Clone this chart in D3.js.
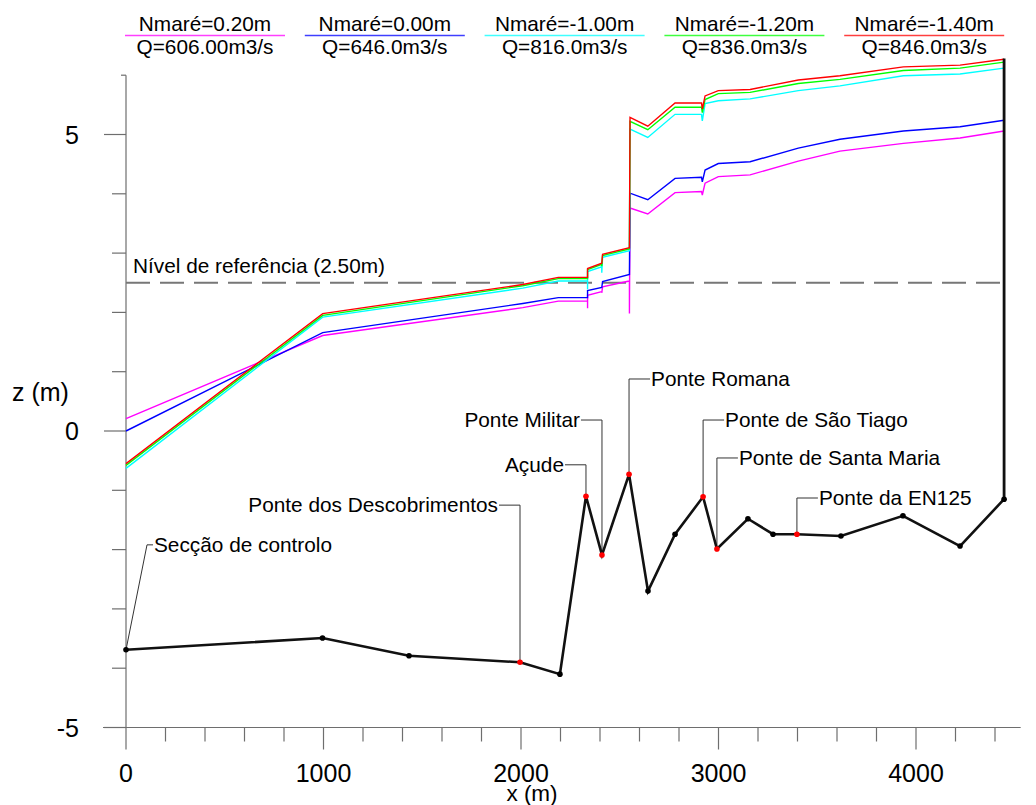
<!DOCTYPE html>
<html><head><meta charset="utf-8">
<script src="https://cdn.jsdelivr.net/npm/d3@7"></script>
<style>
body{margin:0;background:#fff}
svg{display:block}
text{font-family:"Liberation Sans",Arial,Helvetica,sans-serif;fill:#000}
</style>
</head><body>
<svg id="c" width="1036" height="805"></svg>
<script>
// ---------------- DATA ----------------
// water surface stations (m); repeated stations describe vertical jumps/spikes
const stations = [0, 996, 2009, 2189, 2337, 2337, 2337, 2409, 2409, 2413, 2549, 2549, 2552, 2642, 2780, 2914, 2918, 2932, 2999, 3160, 3404, 3615, 3936, 4223, 4446];

const zMare020 = [0.21, 1.61, 2.08, 2.19, 2.19, 2.07, 2.29, 2.35, 2.33, 2.43, 2.53, 1.98, 3.76, 3.66, 4.02, 4.04, 3.98, 4.18, 4.29, 4.32, 4.55, 4.72, 4.85, 4.94, 5.06];
const zMare000 = [0.00, 1.66, 2.15, 2.25, 2.25, 2.25, 2.37, 2.42, 2.42, 2.52, 2.64, 2.64, 4.01, 3.90, 4.26, 4.28, 4.20, 4.40, 4.51, 4.54, 4.77, 4.92, 5.06, 5.13, 5.24];
const zMareM100 = [-0.63, 1.92, 2.41, 2.53, 2.53, 2.39, 2.69, 2.77, 2.67, 2.93, 3.04, 3.04, 5.09, 4.95, 5.34, 5.34, 5.23, 5.52, 5.57, 5.60, 5.74, 5.82, 5.99, 6.02, 6.12];
const zMareM120 = [-0.58, 1.95, 2.45, 2.57, 2.57, 2.57, 2.72, 2.81, 2.78, 2.96, 3.07, 3.07, 5.22, 5.08, 5.46, 5.46, 5.37, 5.59, 5.69, 5.71, 5.86, 5.93, 6.08, 6.12, 6.22];
const zMareM140 = [-0.55, 1.98, 2.47, 2.59, 2.59, 2.59, 2.74, 2.83, 2.83, 2.98, 3.09, 3.09, 5.29, 5.14, 5.53, 5.53, 5.43, 5.65, 5.74, 5.76, 5.92, 5.99, 6.14, 6.17, 6.27];

const seriesNames = ["Nmaré=0.20m", "Nmaré=0.00m", "Nmaré=-1.00m", "Nmaré=-1.20m", "Nmaré=-1.40m"];
const seriesQ = ["Q=606.00m3/s", "Q=646.0m3/s", "Q=816.0m3/s", "Q=836.0m3/s", "Q=846.0m3/s"];
const seriesColors = ["#ff00ff", "#0000ff", "#00ffff", "#00ff00", "#ff0000"];
const seriesZ = [zMare020, zMare000, zMareM100, zMareM120, zMareM140];

// river bed profile
const bedX = [0, 995, 1433, 1995, 2197, 2329, 2410, 2547, 2643, 2780, 2922, 2992, 3149, 3276, 3397, 3620, 3934, 4223, 4446];
const bedZ = [-3.69, -3.49, -3.79, -3.90, -4.10, -1.10, -2.09, -0.73, -2.70, -1.74, -1.11, -1.99, -1.48, -1.74, -1.74, -1.77, -1.43, -1.94, -1.15];
const bedSpecial = [0, 0, 0, 1, 0, 1, 1, 1, 0, 0, 1, 1, 0, 0, 1, 0, 0, 0, 0];
const rightWallTop = 6.28;

// annotations
const annotNames = ["Secção de controlo", "Ponte dos Descobrimentos", "Açude", "Ponte Militar", "Ponte Romana", "Ponte de São Tiago", "Ponte de Santa Maria", "Ponte da EN125"];
const annotBedIdx = [0, 3, 5, 6, 7, 10, 11, 14];
const annotLabelZ = [-1.92, -1.25, -0.57, 0.185, 0.877, 0.185, -0.455, -1.13];
const annotSide = ["diag", "left", "left", "left", "right", "right", "right", "right"];

const refLevel = 2.5;
const refLabel = "Nível de referência (2.50m)";

const xTickValues = d3.range(0, 4401, 200);
const xMajorTicks = [0, 1000, 2000, 3000, 4000];
const zTickValues = d3.range(-5, 7, 1);
const zMajorTicks = [-5, 0, 5];

// ---------------- CHART ----------------
const svg = d3.select("#c");
const x = d3.scaleLinear().domain([0, 4000]).range([126, 916]);
const y = d3.scaleLinear().domain([-5, 5]).range([727.5, 134.5]);
const axisColor = "#6e6e6e";
const fs = 20.8;

// X axis
const gx = svg.append("g");
gx.append("line").attr("x1", x(0) - 23).attr("x2", x(4530))
  .attr("y1", y(-5)).attr("y2", y(-5)).attr("stroke", axisColor).attr("stroke-width", 1.2);
gx.selectAll("line.t").data(xTickValues).join("line")
  .attr("x1", d => x(d)).attr("x2", d => x(d))
  .attr("y1", y(-5)).attr("y2", d => y(-5) + (xMajorTicks.includes(d) ? 22 : 14))
  .attr("stroke", axisColor).attr("stroke-width", 1.2);
gx.selectAll("text").data(xMajorTicks).join("text")
  .attr("x", d => x(d)).attr("y", 782).attr("text-anchor", "middle")
  .attr("font-size", 25).text(d => d);
svg.append("text").attr("x", 532).attr("y", 801).attr("text-anchor", "middle")
  .attr("font-size", 22.5).text("x (m)");

// Y axis
const gy = svg.append("g");
gy.append("line").attr("x1", x(0)).attr("x2", x(0))
  .attr("y1", y(6)).attr("y2", y(-5)).attr("stroke", axisColor).attr("stroke-width", 1.2);
gy.selectAll("line.t").data(zTickValues).join("line")
  .attr("x1", x(0)).attr("x2", d => x(0) - (zMajorTicks.includes(d) ? 22 : (d === 6 ? 5 : 14)))
  .attr("y1", d => y(d)).attr("y2", d => y(d))
  .attr("stroke", axisColor).attr("stroke-width", 1.2);
gy.selectAll("text").data(zMajorTicks).join("text")
  .attr("x", 79).attr("y", d => y(d) + 9).attr("text-anchor", "end")
  .attr("font-size", 25).text(d => d);
svg.append("text").attr("x", 12).attr("y", 401).attr("font-size", 25).text("z (m)");

// reference level
svg.append("line").attr("x1", x(0)).attr("x2", x(4446))
  .attr("y1", y(refLevel)).attr("y2", y(refLevel))
  .attr("stroke", "#777").attr("stroke-width", 1.8).attr("stroke-dasharray", "24,10");
svg.append("text").attr("x", 133).attr("y", y(refLevel) - 10).attr("font-size", fs).text(refLabel);

// water lines
const line = d3.line().x(d => x(d[0])).y(d => y(d[1]));
seriesZ.forEach((zs, i) => {
  svg.append("path").datum(stations.map((s, k) => [s, zs[k]]))
    .attr("d", line).attr("fill", "none").attr("stroke", seriesColors[i])
    .attr("stroke-width", 1.4).attr("stroke-linejoin", "miter");
});

// leaders + annotation text
const ga = svg.append("g");
annotNames.forEach((name, i) => {
  const bx = x(bedX[annotBedIdx[i]]), by = y(bedZ[annotBedIdx[i]]), ly = y(annotLabelZ[i]);
  let pts, tx, anchor;
  if (annotSide[i] === "diag") {
    pts = [[bx, by], [bx + 21, ly], [bx + 27, ly]]; tx = bx + 28; anchor = "start";
  } else if (annotSide[i] === "left") {
    pts = [[bx, by], [bx, ly], [bx - 21, ly]]; tx = bx - 22; anchor = "end";
  } else {
    pts = [[bx, by], [bx, ly], [bx + 21, ly]]; tx = bx + 22; anchor = "start";
  }
  ga.append("polyline").attr("points", pts.map(p => p.join(",")).join(" "))
    .attr("fill", "none").attr("stroke", "#333").attr("stroke-width", 1);
  ga.append("text").attr("x", tx).attr("y", ly + 7).attr("text-anchor", anchor)
    .attr("font-size", fs).text(name);
});

// bed profile
svg.append("line").attr("x1", x(bedX[bedX.length - 1])).attr("x2", x(bedX[bedX.length - 1]))
  .attr("y1", y(bedZ[bedZ.length - 1])).attr("y2", y(rightWallTop))
  .attr("stroke", "#111").attr("stroke-width", 2.8);
svg.append("path").datum(bedX.map((b, k) => [b, bedZ[k]]))
  .attr("d", line).attr("fill", "none").attr("stroke", "#111").attr("stroke-width", 2.6);
svg.selectAll("circle.bed").data(bedX.map((b, k) => [b, bedZ[k], bedSpecial[k]])).join("circle")
  .attr("cx", d => x(d[0])).attr("cy", d => y(d[1])).attr("r", 2.8)
  .attr("fill", d => d[2] ? "#ff0000" : "#000");

// legend
const gl = svg.append("g");
seriesNames.forEach((n, i) => {
  const x0 = 125 + i * 179.8, w = 160;
  gl.append("line").attr("x1", x0).attr("x2", x0 + w).attr("y1", 35.5).attr("y2", 35.5)
    .attr("stroke", seriesColors[i]).attr("stroke-width", 1.6).attr("opacity", 0.75);
  gl.append("text").attr("x", x0 + w / 2).attr("y", 31).attr("text-anchor", "middle")
    .attr("font-size", fs).text(n);
  gl.append("text").attr("x", x0 + w / 2).attr("y", 54).attr("text-anchor", "middle")
    .attr("font-size", fs).text(seriesQ[i]);
});
</script>
</body></html>
